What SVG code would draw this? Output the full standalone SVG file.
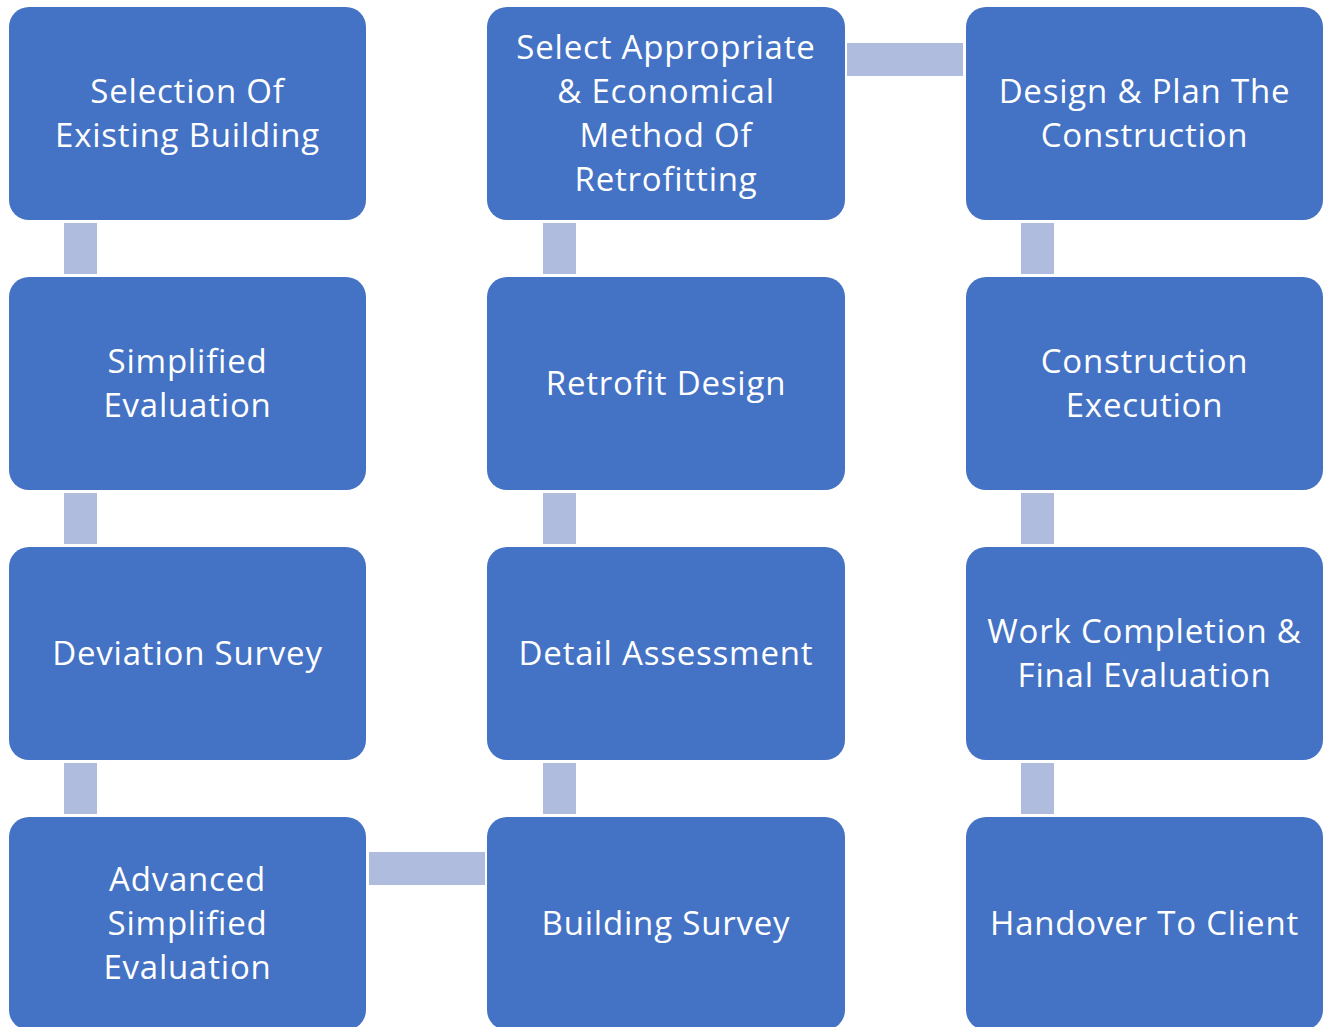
<svg xmlns="http://www.w3.org/2000/svg" width="1329" height="1027" viewBox="0 0 1329 1027">
<style>
.node rect{fill:#4472C4}
.node text{fill:#fff;font-family:"Open Sans","Liberation Sans",sans-serif;font-size:33px;letter-spacing:0.8px;text-anchor:middle}
.conn rect{fill:#AFBCDD}
</style>
<rect width="1329" height="1027" fill="#fff"/>
<g id="connectors" class="conn">
<rect x="64" y="223" width="33" height="51"/>
<rect x="64" y="493" width="33" height="51"/>
<rect x="64" y="763" width="33" height="51"/>
<rect x="369" y="852" width="116" height="33"/>
<rect x="543" y="763" width="33" height="51"/>
<rect x="543" y="493" width="33" height="51"/>
<rect x="543" y="223" width="33" height="51"/>
<rect x="847" y="43" width="116" height="33"/>
<rect x="1021" y="223" width="33" height="51"/>
<rect x="1021" y="493" width="33" height="51"/>
<rect x="1021" y="763" width="33" height="51"/>
</g>
<g id="n1" class="node"><rect x="9" y="7" width="357" height="213" rx="20"/><text x="187.5" y="103">Selection Of</text><text x="187.5" y="147">Existing Building</text></g>
<g id="n2" class="node"><rect x="9" y="277" width="357" height="213" rx="20"/><text x="187.5" y="373">Simplified</text><text x="187.5" y="417">Evaluation</text></g>
<g id="n3" class="node"><rect x="9" y="547" width="357" height="213" rx="20"/><text x="187.5" y="665">Deviation Survey</text></g>
<g id="n4" class="node"><rect x="9" y="817" width="357" height="213" rx="20"/><text x="187.5" y="891">Advanced</text><text x="187.5" y="935">Simplified</text><text x="187.5" y="979">Evaluation</text></g>
<g id="n5" class="node"><rect x="487" y="817" width="358" height="213" rx="20"/><text x="666" y="935">Building Survey</text></g>
<g id="n6" class="node"><rect x="487" y="547" width="358" height="213" rx="20"/><text x="666" y="665">Detail Assessment</text></g>
<g id="n7" class="node"><rect x="487" y="277" width="358" height="213" rx="20"/><text x="666" y="395">Retrofit Design</text></g>
<g id="n8" class="node"><rect x="487" y="7" width="358" height="213" rx="20"/><text x="666" y="59">Select Appropriate</text><text x="666" y="103">&amp; Economical</text><text x="666" y="147">Method Of</text><text x="666" y="191">Retrofitting</text></g>
<g id="n9" class="node"><rect x="966" y="7" width="357" height="213" rx="20"/><text x="1144.5" y="103">Design &amp; Plan The</text><text x="1144.5" y="147">Construction</text></g>
<g id="n10" class="node"><rect x="966" y="277" width="357" height="213" rx="20"/><text x="1144.5" y="373">Construction</text><text x="1144.5" y="417">Execution</text></g>
<g id="n11" class="node"><rect x="966" y="547" width="357" height="213" rx="20"/><text x="1144.5" y="643">Work Completion &amp;</text><text x="1144.5" y="687">Final Evaluation</text></g>
<g id="n12" class="node"><rect x="966" y="817" width="357" height="213" rx="20"/><text x="1144.5" y="935">Handover To Client</text></g>
</svg>
